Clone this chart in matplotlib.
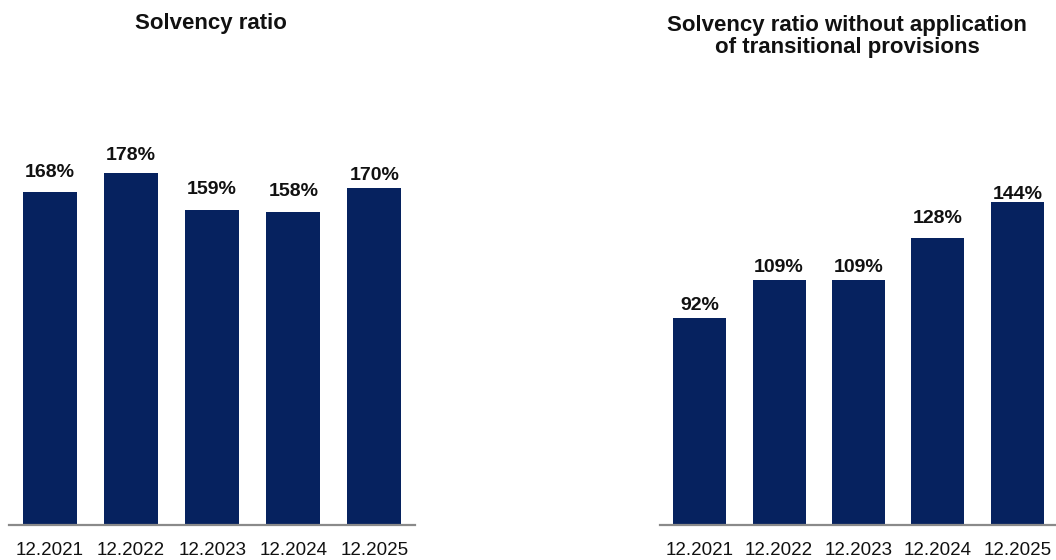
import matplotlib
matplotlib.use("Agg")
import matplotlib.pyplot as plt

categories = ["12.2021", "12.2022", "12.2023", "12.2024", "12.2025"]
solvency = [168, 178, 159, 158, 170]
solvency_no_trans = [92, 109, 109, 128, 144]
title_left = "Solvency ratio"
title_right = "Solvency ratio without application\nof transitional provisions"

# label gaps above bars (points) - styling only
gap_left = [11, 9, 12, 11.5, 6]
gap_right = [6, 6, 6, 10.5, 2]

plt.rcParams['font.family'] = ['Liberation Sans', 'DejaVu Sans']
BAR = "#06225F"
W, H = 1056, 560
fig = plt.figure(figsize=(W / 100, H / 100), dpi=100)

def px_axes(x0, x1, ybot, ytop):
    return fig.add_axes([x0 / W, 1 - ybot / H, (x1 - x0) / W, (ybot - ytop) / H])

axL = px_axes(9.3, 415, 525, 129)
axR = px_axes(660, 1057, 525, 76)

for ax, vals, gaps in ((axL, solvency, gap_left), (axR, solvency_no_trans, gap_right)):
    xs = range(len(categories))
    ax.bar(xs, vals, width=0.667, color=BAR, zorder=2)
    ax.set_xlim(-0.5, len(categories) - 0.5)
    ax.set_ylim(0, 200)
    ax.set_xticks(list(xs))
    ax.set_xticklabels(categories, fontsize=13.5, color="#111111")
    ax.tick_params(axis='x', length=0, pad=12)
    ax.set_yticks([])
    for s in ("top", "left", "right"):
        ax.spines[s].set_visible(False)
    ax.spines["bottom"].set_color("#8a8a8a")
    ax.spines["bottom"].set_linewidth(1.6)
    ax.patch.set_alpha(0)
    for x, v, g in zip(xs, vals, gaps):
        ax.annotate(f"{v}%", (x, v), xytext=(0, g), textcoords="offset points",
                    ha="center", va="baseline", fontsize=14, fontweight="bold",
                    color="#111111", annotation_clip=False)

fig.text(211 / W, 1 - 29.5 / H, title_left, ha="center", va="baseline",
         fontsize=16, fontweight="bold", color="#111111")
fig.text(847 / W, 1 - 53.5 / H, title_right, ha="center", va="baseline",
         fontsize=16, fontweight="bold", color="#111111", linespacing=1.1,
         multialignment="center")

fig.savefig("out.png", dpi=100)
